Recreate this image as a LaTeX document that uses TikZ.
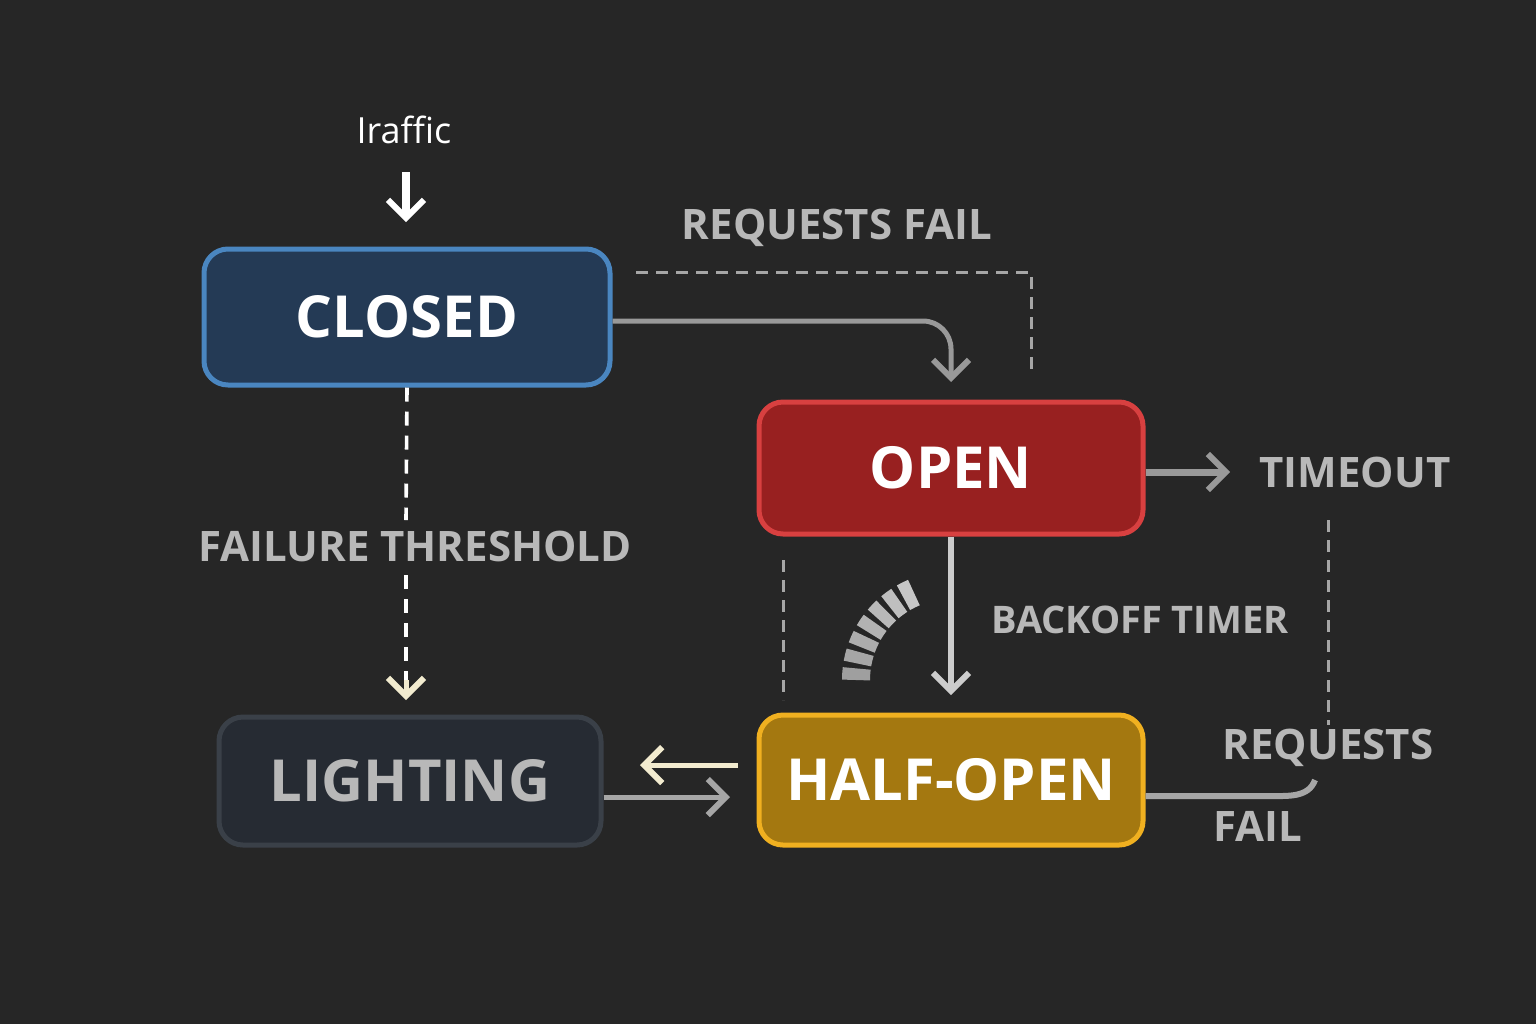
\documentclass[tikz,border=0pt]{standalone}
\usepackage{fontspec}
\setmainfont{Open Sans}
\usetikzlibrary{arrows.meta}
\definecolor{bg}{HTML}{262626}
\definecolor{lbl}{HTML}{B8B8B8}
\definecolor{cream}{HTML}{F2EBCF}
\definecolor{cbf}{HTML}{243A55}\definecolor{cbd}{HTML}{4A86C0}
\definecolor{obf}{HTML}{982020}\definecolor{obd}{HTML}{D84040}
\definecolor{hbf}{HTML}{A47810}\definecolor{hbd}{HTML}{F0B020}
\definecolor{lbf}{HTML}{262B33}\definecolor{lbd}{HTML}{3A4048}
\begin{document}
\begin{tikzpicture}[x=0.5pt,y=-0.5pt,
  st/.style={draw, line width=2.5pt, rounded corners=12pt, font=\bfseries\fontsize{29}{29}\selectfont},
  lab/.style={text=lbl, font=\bfseries\fontsize{21}{21}\selectfont},
  arr/.style={line width=2.5pt, -{Straight Barb[length=9pt,width=18pt,line width=3pt]}},
  dsh/.style={draw=gray!70, line width=1.5pt, dash pattern=on 6pt off 4pt}]
\fill[bg] (0,0) rectangle (1536,1024);
\node[st, fill=cbf, draw=cbd, text=white, minimum width=203pt, minimum height=68pt] (closed) at (407,317) {CLOSED};
\node[st, fill=obf, draw=obd, text=white, minimum width=192pt, minimum height=66pt] (open) at (951,468) {OPEN};
\node[st, fill=hbf, draw=hbd, text=white, minimum width=192pt, minimum height=65pt] (half) at (951,780) {HALF-OPEN};
\node[st, fill=lbf, draw=lbd, text=lbl, minimum width=191pt, minimum height=64pt] (light) at (410,781) {LIGHTING};
% traffic
\node[text=white, font=\fontsize{18}{18}\selectfont] (traffic) at (404,130) {Iraffic};
\coordinate (t1) at (406,172);
\draw[arr, white, line width=4pt] (t1) -- (406,222);
% requests fail
\node[lab] (rf) at (837,228) {REQUESTS FAIL};
\draw[dsh] (636,272) -- (1031,272) -- (1031,375);
\draw[arr, gray!80!white, rounded corners=14pt] (closed.east |- 0,321) -- (951,321) -- (951,382);
% timeout
\node[lab] (to) at (1355,472) {TIMEOUT};
\draw[arr, gray!80!white, line width=3.5pt] (open.east |- 0,472) -- (1230,472);
% backoff
\node[lab, font=\bfseries\fontsize{19}{19}\selectfont] (bt) at (1140,620) {BACKOFF TIMER};
\draw[arr, gray!40!white, line width=3pt] (open.south) -- (951,695);
\draw[dsh] (783,560) -- (783,700);
\foreach \a/\c in {-180/gray!75!white,-170/gray!70!white,-160/gray!65!white,-150/gray!60,-140/gray!55,-130/gray!50,-120/gray!45}
  \draw[\c, line width=14pt] (951,680) ++(\a:95) arc[start angle=\a, end angle=\a+7, radius=95];
% failure threshold
\node[lab] (ft) at (415,546) {FAILURE THRESHOLD};
\draw[white, line width=1.8pt, dash pattern=on 7pt off 5pt] (closed.south) -- (406,520);
\draw[white, line width=1.8pt, dash pattern=on 7pt off 5pt] (406,575) -- (406,690);
\draw[arr, cream] (406,680) -- (406,700);
% between light and half
\coordinate (c1) at (738,765);
\coordinate (c2) at (640,765);
\draw[arr, cream] (c1) -- (c2);
\draw[arr, gray!70!white] (light.east |- 0,797) -- (730,797);
% right loop
\node[lab] (rq) at (1328,748) {REQUESTS};
\node[lab] (fl) at (1258,826) {FAIL};
\draw[dsh] (1328,520) -- (1328,725);
\draw[gray!70!white, line width=3pt] (half.east |- 0,796) -- (1270,796) to[out=0,in=-110] (1315,780);
\end{tikzpicture}
\end{document}
